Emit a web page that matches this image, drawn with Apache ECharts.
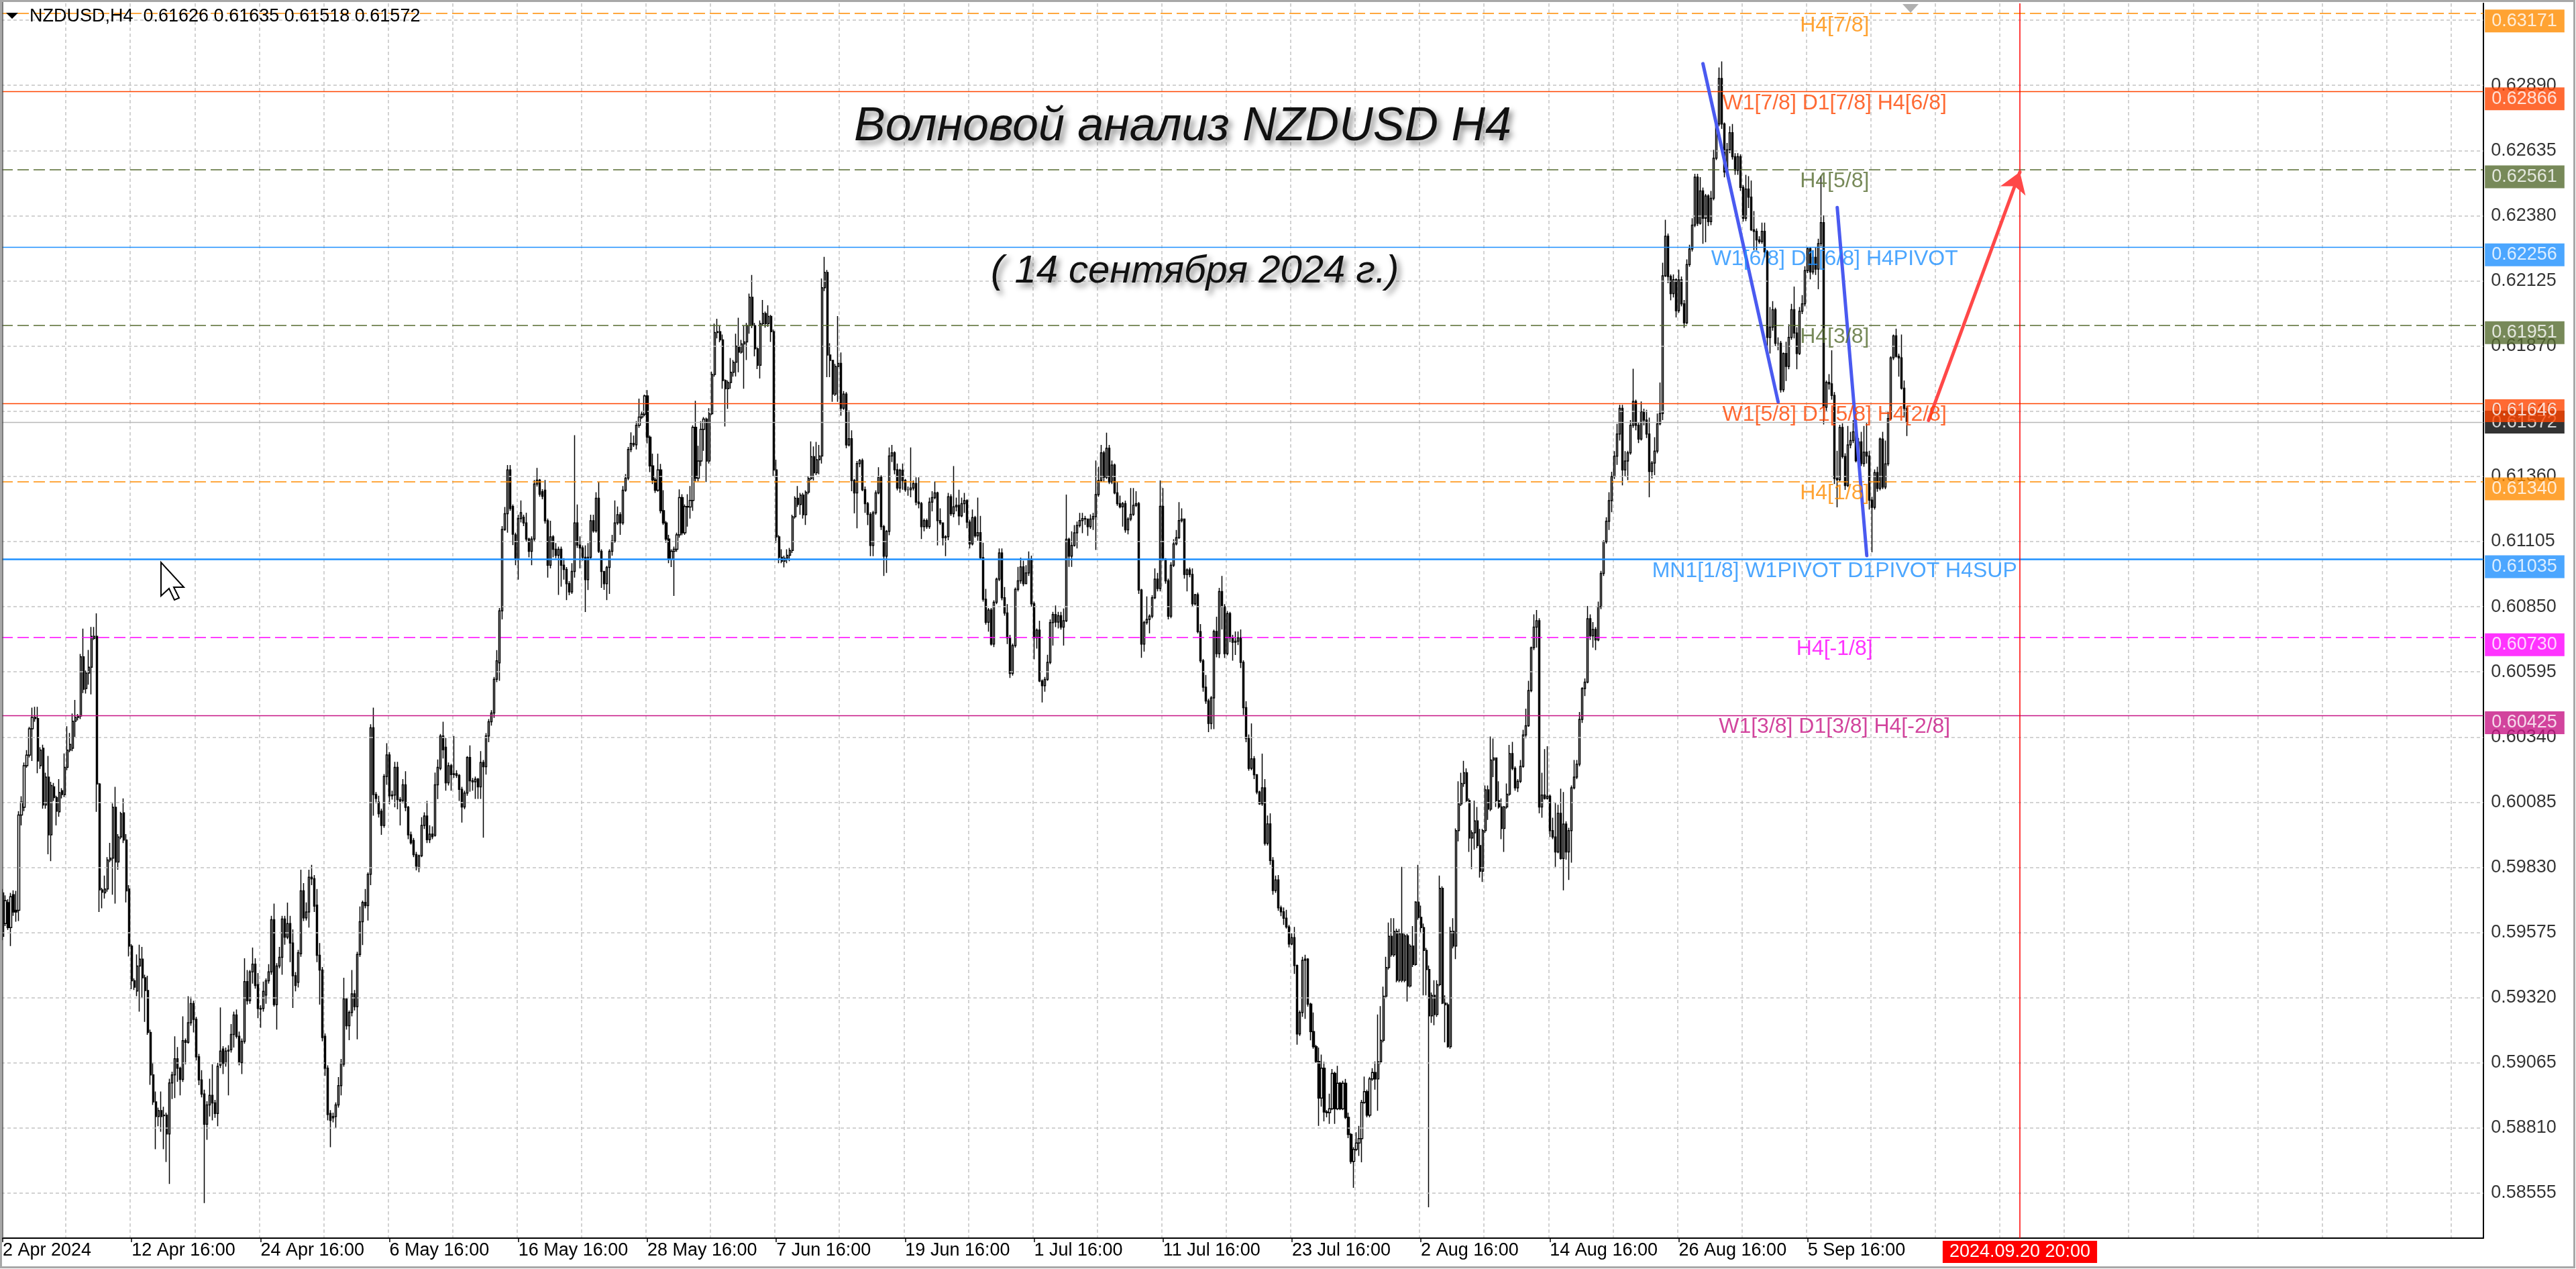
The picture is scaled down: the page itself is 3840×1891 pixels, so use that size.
<!DOCTYPE html>
<html><head><meta charset="utf-8">
<script src="https://cdn.jsdelivr.net/npm/echarts@6/dist/echarts.min.js"></script>
<style>html,body{margin:0;padding:0;background:#fff;overflow:hidden;}#c{width:3840px;height:1891px;}</style>
</head><body><div id="c"></div>
<script>
// ---------------- DATA ----------------
// prices stored as 1e-5 units above BASE
const BASE = 0.58, UNIT = 0.00001;
const SYMBOL = 'NZDUSD', TIMEFRAME = 'H4';
const opens = [
1730,1610,1692,1594,1723,1662,1662,2035,2065,2228,
2269,2372,2417,2412,2228,2296,2074,2183,1957,2145,
2103,2047,2130,2115,2221,2289,2296,2402,2417,2422,
2654,2530,2590,2613,2726,2734,2156,1742,1730,1745,
1859,1866,2065,1851,1949,2043,1937,1745,1522,1386,
1346,1444,1471,1398,1348,1184,1018,912,855,878,
858,860,787,986,1018,1081,1044,1000,1152,1145,
1222,1297,1235,1089,998,943,825,900,938,908,
867,1056,1119,1063,1111,1116,1176,1252,1169,1066,
1149,1383,1308,1421,1451,1371,1278,1278,1330,1386,
1421,1625,1293,1444,1478,1628,1557,1610,1534,1406,
1380,1492,1738,1632,1655,1791,1785,1682,1486,1428,
1169,1044,867,850,855,900,976,1060,1315,1210,
1262,1335,1285,1489,1617,1693,1680,1803,2376,2115,
2085,2050,1994,2186,2270,2110,2113,2221,2095,2092,
2153,2065,1957,1935,1880,1827,1875,1994,2031,1938,
1960,1955,2153,2217,2344,2300,2161,2228,2193,2196,
2190,2135,2066,2121,2260,2169,2165,2175,2145,2240,
2224,2344,2400,2434,2566,2630,2834,3152,3214,3385,
3242,3131,3036,3195,3200,3178,3115,3067,3115,3330,
3345,3300,3306,3186,3012,3123,3075,3051,3075,3012,
2996,2940,2908,2988,3178,3091,3080,3043,2956,3043,
3186,3147,3274,3067,2988,2940,3004,3067,3107,3178,
3210,3178,3306,3353,3465,3489,3484,3560,3592,3603,
3675,3513,3401,3346,3306,3385,3226,3178,3115,3036,
3067,3075,3131,3277,3139,3242,3240,3266,3552,3353,
3420,3544,3584,3420,3605,3759,3923,3926,3894,3735,
3703,3727,3767,3807,3870,3846,3878,3886,3950,4061,
3950,3859,3795,3958,3997,3958,3986,3926,3385,3123,
3043,3028,3040,3051,3070,3202,3274,3250,3287,3210,
3298,3352,3437,3374,3425,3440,4098,4158,3835,3814,
3682,3790,3802,3627,3682,3483,3507,3344,3295,3410,
3422,3308,3253,3211,3090,3217,3295,3356,3163,3048,
3145,3440,3452,3386,3314,3384,3344,3308,3308,3314,
3332,3259,3253,3163,3187,3163,3259,3277,3295,3187,
3178,3120,3124,3280,3214,3241,3247,3205,3253,3265,
3181,3096,3199,3127,3140,3042,2879,2789,2837,2704,
2867,2958,3060,2885,2825,2728,2589,2698,2918,2951,
3006,2940,2982,3036,2861,2728,2758,2559,2541,2565,
2632,2788,2819,2790,2815,2770,2795,3114,3048,3090,
3139,3168,3187,3195,3193,3163,3193,3203,3289,3344,
3452,3356,3470,3338,3404,3295,3253,3241,3253,3151,
3193,3211,3247,3253,2915,2704,2788,2800,2813,2885,
2958,2921,3243,3036,2951,2813,3012,3096,3120,3187,
3193,2976,2994,2976,2861,2897,2752,2638,2535,2481,
2393,2493,2753,2666,2909,2850,2666,2823,2728,2711,
2715,2728,2632,2455,2334,2217,2255,2192,2125,2079,
2141,1924,2000,1857,1739,1781,1672,1656,1631,1597,
1530,1555,1446,1178,1262,1466,1471,1295,1187,1128,
1070,927,1044,873,870,885,1024,885,985,885,
985,852,785,679,726,751,768,910,952,860,
1002,1027,1002,1069,1153,1326,1438,1560,1488,1580,
1388,1570,1388,1562,1366,1522,1450,1694,1634,1594,
1505,1430,1249,1329,1254,1371,1748,1299,1292,1128,
1580,1522,1974,2078,2158,2200,2091,1945,1965,2012,
1915,1815,1974,2133,2058,2250,2258,2091,2066,1982,
2066,2116,2275,2217,2141,2167,2225,2348,2384,2522,
2689,2770,2795,2066,2113,2100,2108,1974,1949,1890,
2041,1865,1999,1890,1974,2141,2183,2234,2409,2530,
2555,2803,2736,2761,2720,2850,2980,3104,3184,3265,
3359,3439,3526,3626,3385,3420,3452,3560,3653,3560,
3506,3613,3580,3526,3379,3412,3459,3566,3606,4145,
4300,4142,4075,4130,4008,4129,4035,3961,4189,4250,
4343,4531,4350,4477,4370,4457,4357,4448,4605,4739,
4917,4739,4551,4638,4705,4611,4558,4611,4491,4370,
4484,4453,4325,4319,4285,4279,4319,4239,3904,3944,
4012,3881,3881,3699,3841,3790,3904,4012,3921,3841,
4006,4035,4165,4251,4160,4217,4171,4271,4353,3631,
3728,3722,3677,3352,3347,3551,3438,3324,3483,3500,
3534,3421,3495,3410,3455,3440,3267,3239,3375,3313,
3506,3318,3409,3586,3824,3910,3830,3824,3705,3626];
const highs = [
1745,1720,1705,1730,1740,1738,2050,2108,2240,2289,
2380,2455,2458,2458,2300,2310,2200,2266,2165,2160,
2110,2175,2140,2276,2382,2356,2432,2485,2430,2665,
2764,2600,2681,2771,2771,2824,2160,1750,1798,1870,
1926,2080,2145,1960,2047,2100,1960,1760,1530,1395,
1489,1527,1519,1410,1406,1195,1066,953,890,953,
893,870,1003,1030,1169,1127,1050,1247,1160,1326,
1323,1308,1245,1100,1036,960,915,1003,1059,920,
1065,1282,1130,1125,1134,1217,1265,1274,1187,1160,
1474,1428,1428,1516,1474,1416,1290,1383,1395,1451,
1640,1688,1455,1519,1640,1640,1692,1640,1587,1420,
1507,1821,1768,1693,1821,1840,1800,1745,1534,1440,
1180,1055,880,870,910,1009,1080,1398,1318,1270,
1428,1350,1500,1677,1700,1745,1810,2390,2455,2125,
2110,2060,2195,2316,2281,2130,2243,2243,2105,2175,
2206,2070,1970,1945,1890,1880,2026,2045,2090,1995,
1990,2201,2252,2352,2400,2336,2240,2235,2344,2210,
2195,2145,2130,2265,2307,2180,2185,2180,2285,2250,
2355,2410,2445,2575,2680,2845,3165,3240,3404,3404,
3250,3140,3210,3266,3210,3218,3120,3125,3346,3393,
3350,3310,3346,3195,3186,3130,3099,3085,3085,3040,
3005,2950,3020,3521,3250,3125,3090,3090,3099,3210,
3210,3298,3338,3075,2990,3010,3075,3131,3266,3242,
3220,3322,3369,3475,3532,3520,3576,3664,3615,3680,
3698,3520,3449,3355,3449,3409,3306,3185,3131,3075,
3085,3140,3309,3290,3250,3290,3322,3560,3656,3480,
3576,3592,3590,3627,3770,3958,3977,3950,3915,3740,
3735,3823,3815,3918,3981,3894,3950,3960,4075,4148,
3960,3865,3970,4050,4005,4029,3992,3935,3425,3130,
3075,3050,3075,3080,3210,3282,3322,3295,3295,3305,
3360,3497,3477,3495,3483,4134,4219,4168,3881,3815,
3800,3987,3845,3694,3690,3618,3540,3350,3420,3428,
3430,3320,3260,3220,3225,3305,3396,3364,3170,3150,
3473,3483,3458,3410,3390,3410,3350,3320,3473,3344,
3356,3356,3260,3195,3195,3277,3302,3340,3300,3235,
3180,3130,3295,3290,3400,3277,3308,3277,3295,3270,
3190,3230,3205,3277,3205,3100,2920,2845,2845,2875,
2964,3078,3078,2927,2860,2740,2706,2925,3006,3042,
3030,3012,3066,3050,2870,2765,2795,2565,2575,2662,
2800,2830,2855,2830,2830,2843,3289,3120,3145,3169,
3183,3217,3217,3205,3195,3211,3217,3422,3398,3483,
3460,3531,3483,3422,3410,3338,3285,3260,3265,3200,
3314,3314,3302,3260,2920,2795,2890,2820,2895,3000,
2982,3344,3314,3040,2960,3024,3114,3150,3259,3235,
3195,3000,3003,3000,2900,2905,2782,2645,2583,2490,
2500,2760,2811,2924,2970,2860,2833,2830,2740,2753,
2753,2761,2640,2480,2350,2393,2265,2195,2130,2275,
2175,2033,2041,1870,1798,1800,1680,1673,1664,1605,
1572,1597,1450,1270,1480,1488,1475,1300,1262,1135,
1125,1097,1069,880,944,1041,1030,1053,990,995,
1002,870,790,735,793,818,920,1011,960,1010,
1044,1070,1254,1287,1363,1480,1614,1631,1631,1590,
1589,1832,1570,1570,1530,1600,1697,1840,1680,1610,
1515,1446,1340,1388,1388,1798,1756,1329,1300,1597,
1631,1982,2167,2200,2247,2217,2100,1975,2091,2066,
1980,1980,2150,2150,2342,2334,2260,2167,2100,2070,
2158,2309,2321,2225,2175,2250,2368,2451,2560,2694,
2820,2837,2805,2200,2293,2304,2115,2024,2083,2075,
2138,2125,2010,1985,2150,2250,2250,2438,2535,2569,
2853,2820,2790,2770,2870,2990,3110,3200,3298,3378,
3459,3566,3640,3640,3459,3460,3580,3781,3660,3570,
3653,3625,3620,3590,3420,3513,3606,3727,4196,4364,
4310,4150,4150,4135,4169,4142,4050,4209,4266,4370,
4544,4544,4531,4490,4465,4464,4477,4638,4750,4960,
4984,4745,4665,4730,4739,4625,4625,4620,4500,4540,
4535,4518,4398,4330,4300,4353,4353,4245,4023,4046,
4020,3904,3890,3845,3887,3955,4035,4103,3944,4023,
4069,4182,4256,4256,4245,4256,4290,4535,4381,3735,
3760,3853,3690,3460,3562,3568,3450,3557,3534,3580,
3580,3510,3534,3557,3569,3460,3280,3387,3398,3512,
3534,3500,3614,3830,3915,3938,3840,3915,3735,3635];
const lows = [
1545,1600,1585,1522,1640,1617,1620,1994,2050,2220,
2260,2246,2400,2198,2215,2060,2060,1881,1854,2090,
1994,2028,2100,2105,2210,2280,2285,2341,2405,2410,
2512,2510,2545,2507,2720,2047,1655,1670,1708,1735,
1850,1723,1688,1821,1940,1925,1693,1481,1353,1350,
1326,1265,1320,1225,1175,979,900,727,817,795,
727,677,591,923,927,991,938,990,1059,1140,
1210,1184,1074,978,930,516,764,855,840,850,
817,1045,1021,1050,938,1105,1125,1160,1055,1021,
1140,1293,1296,1375,1355,1240,1202,1265,1296,1375,
1410,1285,1195,1435,1410,1527,1549,1459,1280,1345,
1360,1480,1620,1622,1594,1760,1655,1459,1293,1149,
1014,840,735,832,810,890,938,1050,1195,1154,
1247,1270,1157,1480,1526,1670,1622,1760,2032,2080,
2025,1957,1985,2153,2077,2095,2065,2057,1994,2080,
2050,1940,1919,1870,1818,1811,1870,1980,1925,1925,
1940,1950,2097,2210,2256,2130,2150,2130,2180,2180,
2090,2005,2058,2110,2126,2130,2098,2098,2098,1946,
2193,2320,2385,2415,2555,2560,2800,3147,3140,3225,
3091,3012,2956,3180,3165,3105,3043,3012,3105,3320,
3280,3270,3175,2964,3000,3043,3040,2896,2928,2956,
2876,2895,2900,2964,3080,3000,3030,2829,2915,3035,
3140,3140,3060,2924,2916,2876,2900,3050,3100,3170,
3131,3170,3300,3345,3455,3475,3465,3550,3585,3595,
3489,3377,3330,3295,3300,3215,3170,3100,3020,3005,
2892,3065,3120,3130,3131,3163,3195,3225,3340,3340,
3400,3460,3338,3410,3600,3750,3900,3885,3703,3555,
3624,3703,3750,3751,3767,3840,3703,3815,3918,3940,
3830,3780,3743,3950,3942,3945,3886,3361,3100,3020,
3020,3004,3020,3028,3060,3195,3240,3210,3195,3170,
3290,3345,3344,3365,3368,3410,4085,3748,3748,3652,
3675,3652,3597,3620,3470,3477,3302,3215,3157,3396,
3302,3217,3169,3048,3048,3210,3290,3150,2970,2982,
3130,3416,3368,3305,3296,3308,3300,3284,3278,3305,
3247,3235,3115,3145,3155,3155,3223,3270,3090,3170,
3090,3048,3110,3205,3200,3223,3169,3200,3217,3157,
3078,3090,3120,3108,3035,2870,2780,2752,2698,2692,
2860,2950,2875,2815,2704,2571,2580,2690,2910,2940,
2930,2940,2970,2850,2644,2686,2555,2475,2517,2560,
2625,2698,2770,2765,2760,2698,2790,3006,3006,3085,
3078,3160,3138,3170,3127,3155,3150,3072,3280,3340,
3340,3350,3330,3330,3290,3245,3235,3163,3140,3133,
3185,3205,3240,2900,2650,2674,2780,2746,2805,2880,
2910,2910,3030,2940,2800,2805,3005,3090,3115,3180,
2960,2910,2965,2850,2855,2746,2630,2517,2470,2359,
2370,2371,2652,2649,2761,2649,2660,2711,2639,2661,
2700,2610,2426,2320,2208,2210,2175,2116,2075,2071,
1915,1915,1840,1723,1730,1660,1639,1605,1590,1517,
1525,1413,1136,1170,1245,1237,1285,1153,1120,1065,
818,894,836,852,826,880,826,880,880,880,
845,770,670,576,720,701,676,905,852,852,
995,960,877,1060,1145,1320,1430,1480,1480,1380,
1380,1380,1380,1305,1360,1440,1445,1625,1572,1329,
1329,500,1221,1212,1245,1365,1295,1145,1125,1120,
1513,1471,1932,2070,2145,2085,1890,1823,1899,1905,
1790,1773,1965,2016,2050,2183,2066,2060,1940,1890,
2060,2110,2210,2130,2125,2160,2220,2335,2380,2515,
2680,2690,2041,2024,2095,2095,1949,1940,1832,1885,
1860,1740,1860,1781,1848,2135,2175,2225,2395,2500,
2550,2720,2690,2680,2715,2840,2970,3097,3150,3220,
3350,3405,3500,3325,3360,3345,3445,3550,3540,3490,
3500,3560,3510,3278,3352,3365,3450,3560,3580,4140,
4116,4049,4060,3982,4000,4025,3941,3955,4180,4240,
4335,4340,4345,4270,4276,4340,4343,4440,4598,4730,
4720,4530,4540,4625,4600,4540,4540,4477,4357,4359,
4410,4320,4245,4245,4270,4270,4217,3830,3841,3930,
3870,3853,3688,3690,3733,3779,3895,3900,3779,3835,
3995,4025,4155,4131,4150,4148,4092,4260,3563,3614,
3700,3660,3330,3239,3340,3430,3307,3318,3470,3490,
3415,3410,3400,3398,3410,3230,3063,3230,3300,3305,
3310,3310,3400,3580,3815,3825,3750,3700,3590,3518];
const closes = [
1560,1700,1594,1715,1655,1655,2035,2085,2228,2269,
2372,2417,2412,2246,2289,2074,2183,1957,2150,2103,
2050,2123,2115,2221,2289,2311,2402,2417,2422,2654,
2527,2590,2613,2734,2734,2156,1742,1733,1745,1859,
1866,2065,1851,1949,2040,1937,1738,1522,1386,1361,
1444,1471,1398,1348,1184,1018,912,855,878,855,
860,787,986,1018,1081,1044,1000,1152,1145,1222,
1297,1235,1089,998,943,825,900,938,908,867,
1051,1111,1063,1111,1114,1176,1252,1169,1066,1149,
1383,1308,1421,1451,1368,1278,1275,1345,1386,1421,
1625,1293,1444,1478,1628,1557,1610,1534,1406,1368,
1496,1738,1632,1655,1791,1785,1678,1486,1428,1164,
1044,863,840,855,900,976,1066,1315,1210,1262,
1335,1285,1489,1617,1693,1680,1803,2376,2115,2100,
2040,1994,2186,2270,2110,2113,2221,2095,2089,2153,
2065,1957,1926,1880,1835,1875,1994,2031,1938,1960,
1950,2153,2221,2344,2290,2161,2228,2193,2196,2190,
2135,2066,2121,2260,2169,2165,2175,2145,2240,2224,
2344,2400,2434,2566,2638,2834,3152,3214,3385,3234,
3134,3039,3195,3218,3178,3115,3067,3115,3330,3345,
3290,3282,3186,3012,3123,3075,3051,3075,3012,2996,
2940,2908,2988,3178,3091,3080,3043,2956,3043,3186,
3147,3274,3067,2988,2940,3004,3067,3107,3178,3210,
3178,3306,3353,3465,3489,3484,3560,3592,3603,3675,
3513,3401,3346,3306,3385,3226,3178,3115,3036,3067,
3075,3131,3277,3139,3242,3240,3266,3552,3353,3420,
3544,3584,3420,3605,3759,3923,3926,3894,3735,3703,
3727,3767,3807,3870,3846,3878,3886,3950,4061,3950,
3859,3795,3958,3997,3958,3986,3926,3385,3123,3043,
3028,3040,3051,3070,3202,3274,3250,3287,3210,3298,
3352,3437,3374,3425,3440,4098,4158,3835,3814,3682,
3790,3802,3627,3682,3483,3507,3344,3295,3410,3422,
3308,3253,3211,3090,3217,3295,3356,3163,3048,3145,
3440,3452,3386,3314,3384,3344,3308,3308,3314,3332,
3259,3253,3163,3187,3163,3259,3277,3295,3187,3178,
3120,3124,3280,3214,3241,3247,3205,3253,3265,3181,
3096,3199,3127,3140,3042,2879,2789,2837,2704,2867,
2958,3060,2885,2825,2728,2589,2698,2918,2951,3006,
2940,2982,3036,2861,2728,2758,2559,2541,2565,2632,
2788,2819,2790,2815,2770,2795,3114,3048,3090,3139,
3168,3187,3195,3193,3163,3193,3203,3289,3344,3452,
3356,3470,3338,3404,3295,3253,3241,3253,3151,3193,
3211,3247,3253,2915,2704,2788,2800,2813,2885,2958,
2921,3243,3036,2951,2813,3012,3096,3120,3187,3193,
2976,2994,2976,2861,2897,2752,2638,2535,2481,2393,
2493,2753,2666,2909,2850,2666,2823,2728,2711,2715,
2728,2632,2455,2334,2217,2255,2192,2125,2079,2141,
1924,2000,1857,1739,1781,1672,1656,1631,1597,1530,
1555,1446,1178,1262,1466,1471,1295,1187,1128,1070,
927,1044,873,870,885,1024,885,985,885,985,
852,785,679,726,751,768,910,952,860,1002,
1027,1002,1069,1153,1326,1438,1560,1488,1580,1388,
1570,1388,1562,1366,1522,1450,1694,1634,1594,1505,
1430,1249,1329,1254,1371,1748,1299,1292,1128,1580,
1522,1974,2078,2158,2200,2091,1945,1965,2012,1915,
1815,1974,2133,2058,2250,2258,2091,2066,1982,2066,
2116,2275,2217,2141,2167,2225,2348,2384,2522,2689,
2770,2795,2066,2113,2100,2108,1974,1949,1890,2041,
1865,1999,1890,1974,2141,2183,2234,2409,2530,2555,
2803,2736,2761,2720,2850,2980,3104,3184,3265,3359,
3439,3526,3626,3385,3420,3452,3560,3653,3560,3506,
3613,3580,3526,3379,3412,3459,3566,3606,4145,4300,
4142,4075,4130,4008,4129,4035,3961,4189,4250,4343,
4531,4350,4477,4370,4457,4357,4448,4605,4739,4917,
4739,4551,4638,4705,4611,4558,4611,4491,4370,4484,
4453,4325,4319,4285,4279,4319,4239,3904,3944,4012,
3881,3881,3699,3841,3790,3904,4012,3921,3841,4006,
4035,4165,4251,4160,4217,4171,4271,4353,3631,3728,
3722,3677,3352,3347,3551,3438,3324,3483,3500,3534,
3421,3495,3410,3455,3440,3267,3239,3375,3313,3506,
3318,3409,3586,3824,3910,3830,3824,3705,3626,3572];

const priceTicks = [0.58555,0.58810,0.59065,0.59320,0.59575,0.59830,0.60085,0.60340,0.60595,0.60850,
  0.61105,0.61360,0.61615,0.61870,0.62125,0.62380,0.62635,0.62890,0.63145];
const hiddenTickLabels = [0.63145];
const timeTicks = [[0,'2 Apr 2024'],[48,'12 Apr 16:00'],[96,'24 Apr 16:00'],[144,'6 May 16:00'],
  [192,'16 May 16:00'],[240,'28 May 16:00'],[288,'7 Jun 16:00'],[336,'19 Jun 16:00'],[384,'1 Jul 16:00'],
  [432,'11 Jul 16:00'],[480,'23 Jul 16:00'],[528,'2 Aug 16:00'],[576,'14 Aug 16:00'],[624,'26 Aug 16:00'],
  [672,'5 Sep 16:00']];
const levelPrices = [0.63171,0.62866,0.62561,0.62256,0.61951,0.61646,0.61340,0.61035,0.60730,0.60425];
const levelNames = ['H4[7/8]','W1[7/8] D1[7/8] H4[6/8]','H4[5/8]','W1[6/8] D1[6/8] H4PIVOT','H4[3/8]',
  'W1[5/8] D1[5/8] H4[2/8]','H4[1/8]','MN1[1/8] W1PIVOT D1PIVOT H4SUP','H4[-1/8]','W1[3/8] D1[3/8] H4[-2/8]'];
const waveLines = [[[633,0.62975],[661,0.61651]],[[683,0.62412],[694,0.61050]]];
const forecastArrow = [[717,0.61579],[751,0.62551]];
const timeMarker = {index: 751, label: '2024.09.20 20:00'};
const TITLE = 'Волновой анализ NZDUSD H4';
const SUBTITLE = '( 14 сентября 2024 г.)';

// ---------------- STYLE / LAYOUT ----------------
const FONT = '"Liberation Sans", Arial, sans-serif';
const N_SLOTS = 924;
const GRID_LEFT = 2, GRID_TOP = 5, GRID_W = 3699.7, GRID_H = 1840;
const Y_MIN = 0.58379, Y_MAX = 0.63211;
const LABEL_IDX = 682;
const LEVEL_STYLES = [
  {color:'#FF8C00', type:[17,7], width:1.6},
  {color:'#FF4500', type:'solid', width:1.4},
  {color:'#556B2F', type:[17,7], width:1.6},
  {color:'#1E90FF', type:'solid', width:1.4},
  {color:'#556B2F', type:[17,7], width:1.6},
  {color:'#FF4500', type:'solid', width:1.4},
  {color:'#FF8C00', type:[17,7], width:1.6},
  {color:'#1E90FF', type:'solid', width:2.6},
  {color:'#FF00FF', type:[17,7], width:1.6},
  {color:'#C71585', type:'solid', width:1.4}
];

// ---------------- BUILD ----------------
const px = v => +(BASE + v * UNIT).toFixed(5);
const candles = opens.map((o, i) => {
  const O = px(o), C = px(closes[i]);
  const H = Math.max(px(highs[i]), O, C), L = Math.min(px(lows[i]), O, C);
  return [O, C, L, H];
});
const last = opens.length - 1;
const bidPrice = px(closes[last]);

const categories = [];
(function () {
  let t = Date.UTC(2024, 3, 2, 16);
  const p2 = n => (n < 10 ? '0' : '') + n;
  for (let i = 0; i < N_SLOTS; i++) {
    const d = new Date(t);
    categories.push(d.getUTCFullYear() + '.' + p2(d.getUTCMonth() + 1) + '.' + p2(d.getUTCDate()) + ' ' + p2(d.getUTCHours()) + ':00');
    do { t += 4 * 3600e3; } while ([0, 6].includes(new Date(t).getUTCDay()));
  }
})();
const tickMap = new Map(timeTicks);

const chart = echarts.init(document.getElementById('c'), null, {renderer: 'canvas', width: 3840, height: 1891});

const headerText = SYMBOL + ',' + TIMEFRAME + '  ' + [opens[last], highs[last], lows[last], closes[last]].map(v => px(v).toFixed(5)).join(' ');
const ML = {silent: true, animation: false, precision: 5};
const BOX_LABEL = {show: true, position: 'right', distance: 4, formatter: '{b}', color: '#fff',
  padding: [4, 11, 3, 10], fontSize: 27, lineHeight: 27, fontFamily: FONT};

const option = {
  animation: false,
  backgroundColor: '#ffffff',
  textStyle: {fontFamily: FONT},
  grid: {left: GRID_LEFT, top: GRID_TOP, width: GRID_W, height: GRID_H, outerBoundsMode: 'none', containLabel: false},
  xAxis: {
    type: 'category', data: categories, boundaryGap: true,
    axisLine: {show: true, lineStyle: {color: '#000', width: 2}},
    axisTick: {show: true, alignWithLabel: true, interval: i => tickMap.has(i), length: 6, lineStyle: {color: '#000', width: 1.5}},
    axisLabel: {show: true, interval: i => tickMap.has(i), formatter: (v, i) => tickMap.get(i) || '', align: 'left',
      color: '#000', fontSize: 27, fontFamily: FONT, margin: 5},
    splitLine: {show: true, interval: i => i > 0 && i % 24 === 0, lineStyle: {color: '#c4c4c4', type: [5, 4], width: 1.5}}
  },
  yAxis: {
    type: 'value', position: 'right', min: Y_MIN, max: Y_MAX, scale: true,
    axisLine: {show: true, lineStyle: {color: '#000', width: 2}},
    axisTick: {show: false}, axisLabel: {show: false}, splitLine: {show: false}
  },
  series: [
    { // horizontal grid lines
      type: 'line', data: [], z: 1, clip: false, silent: true,
      markLine: Object.assign({}, ML, {symbol: ['none', 'none'], label: {show: false},
        lineStyle: {color: '#c4c4c4', type: [5, 4], width: 1.5},
        data: priceTicks.map(v => ({yAxis: v}))})
    },
    { // price scale labels
      type: 'scatter', z: 2, clip: false, silent: true, symbolSize: 1, itemStyle: {color: 'rgba(0,0,0,0)'},
      label: {show: true, position: 'right', distance: 13, formatter: '{b}', color: '#000', fontSize: 27, fontFamily: FONT},
      data: priceTicks.filter(v => !hiddenTickLabels.includes(v)).map(v => ({name: v.toFixed(5), value: [N_SLOTS - 1, v]}))
    },
    {
      type: 'candlestick', data: candles, z: 3, large: false, barWidth: 2.6, silent: true,
      itemStyle: {color: '#ffffff', color0: '#000000', borderColor: '#000000', borderColor0: '#000000', borderWidth: 1.5}
    },
    { // bid line
      type: 'line', data: [], z: 4, clip: false, silent: true,
      markLine: Object.assign({}, ML, {symbol: ['none', 'none'], label: {show: false},
        lineStyle: {color: '#b8b8b8', type: 'solid', width: 1.4}, data: [{yAxis: bidPrice}]})
    },
    { // murrey levels
      type: 'line', data: [], z: 5, clip: false, silent: true,
      markLine: Object.assign({}, ML, {symbol: ['none', 'none'], label: {show: false},
        data: levelPrices.map((p, i) => ({yAxis: p, lineStyle: {color: LEVEL_STYLES[i].color, type: LEVEL_STYLES[i].type, width: LEVEL_STYLES[i].width}}))})
    },
    { // time marker
      type: 'line', data: [], z: 6, clip: false, silent: true,
      markLine: Object.assign({}, ML, {symbol: ['none', 'none'],
        lineStyle: {color: '#FF0000', type: 'solid', width: 1.5},
        label: {show: true, position: 'start', distance: 4, formatter: '{b}', color: '#fff', backgroundColor: '#FF0000',
          padding: [3, 10, 3, 10], fontSize: 27, lineHeight: 27, fontFamily: FONT},
        data: [{xAxis: timeMarker.index, name: timeMarker.label}]})
    },
    { // level texts
      type: 'scatter', z: 7, clip: false, silent: true, symbolSize: 1, itemStyle: {color: 'rgba(0,0,0,0)'},
      label: {show: true, position: 'bottom', distance: 1, formatter: '{b}', fontSize: 32, lineHeight: 32, fontFamily: FONT},
      data: levelPrices.map((p, i) => ({name: levelNames[i], value: [LABEL_IDX, p], label: {color: LEVEL_STYLES[i].color}}))
    },
    { // wave lines
      type: 'line', data: [], zlevel: 1, z: 8, clip: false, silent: true,
      markLine: Object.assign({}, ML, {symbol: ['none', 'none'], label: {show: false},
        lineStyle: {color: '#4A5AF0', type: 'solid', width: 5, cap: 'round'},
        data: waveLines.map(w => [{coord: w[0]}, {coord: w[1]}])})
    },
    { // forecast arrow
      type: 'line', data: [], zlevel: 1, z: 8, clip: false, silent: true,
      markLine: Object.assign({}, ML, {symbol: ['none', 'arrow'], symbolSize: 30, label: {show: false},
        lineStyle: {color: '#FF4848', type: 'solid', width: 5, cap: 'round'},
        data: [[{coord: forecastArrow[0]}, {coord: forecastArrow[1]}]]})
    },
    { // bid box
      type: 'scatter', zlevel: 2, z: 9, clip: false, silent: true, symbolSize: 1, itemStyle: {color: 'rgba(0,0,0,0)'},
      label: Object.assign({}, BOX_LABEL, {backgroundColor: '#000'}),
      data: [{name: bidPrice.toFixed(5), value: [N_SLOTS - 1, bidPrice]}]
    },
    { // level boxes
      type: 'scatter', zlevel: 3, z: 10, clip: false, silent: true, symbolSize: 1, itemStyle: {color: 'rgba(0,0,0,0)'},
      label: Object.assign({}, BOX_LABEL, {offset: [0, 11]}),
      data: levelPrices.map((p, i) => ({name: p.toFixed(5), value: [N_SLOTS - 1, p], label: {backgroundColor: LEVEL_STYLES[i].color}}))
    }
  ],
  graphic: [
    {type: 'rect', z: 100, silent: true, shape: {x: 1.5, y: 1.5, width: 3836, height: 1887}, style: {fill: 'none', stroke: '#a8a8a8', lineWidth: 3}},
    {type: 'line', z: 100, silent: true, shape: {x1: 4, y1: 3, x2: 4, y2: 1845}, style: {stroke: '#505050', lineWidth: 1.5}},
    {type: 'polygon', z: 100, silent: true, shape: {points: [[9, 19], [27, 19], [18, 28]]}, style: {fill: '#000'}},
    {type: 'text', z: 100, silent: true, x: 44, y: 25, style: {text: headerText, fill: '#000', fontSize: 27, fontFamily: FONT, verticalAlign: 'middle', align: 'left'}},
    {type: 'polygon', z: 100, silent: true, shape: {points: [[2836, 6], [2860, 6], [2848, 19]]}, style: {fill: '#b0b0b0'}},
    {type: 'text', z: 100, silent: true, x: 1273, y: 190, style: {text: TITLE, fill: '#111', fontSize: 70, fontStyle: 'italic', fontFamily: FONT,
      verticalAlign: 'middle', align: 'left', textShadowColor: 'rgba(0,0,0,0.45)', textShadowBlur: 8, textShadowOffsetX: 5, textShadowOffsetY: 6}},
    {type: 'text', z: 100, silent: true, x: 1477, y: 405, style: {text: SUBTITLE, fill: '#111', fontSize: 58, fontStyle: 'italic', fontFamily: FONT,
      verticalAlign: 'middle', align: 'left', textShadowColor: 'rgba(0,0,0,0.45)', textShadowBlur: 8, textShadowOffsetX: 5, textShadowOffsetY: 6}},
    {type: 'polygon', z: 100, silent: true, shape: {points: [[240, 838], [240, 888], [252, 877], [260, 894], [267, 891], [259, 875], [274, 875]]},
      style: {fill: '#fff', stroke: '#000', lineWidth: 2}}
  ]
};
chart.setOption(option);
</script>
</body></html>
